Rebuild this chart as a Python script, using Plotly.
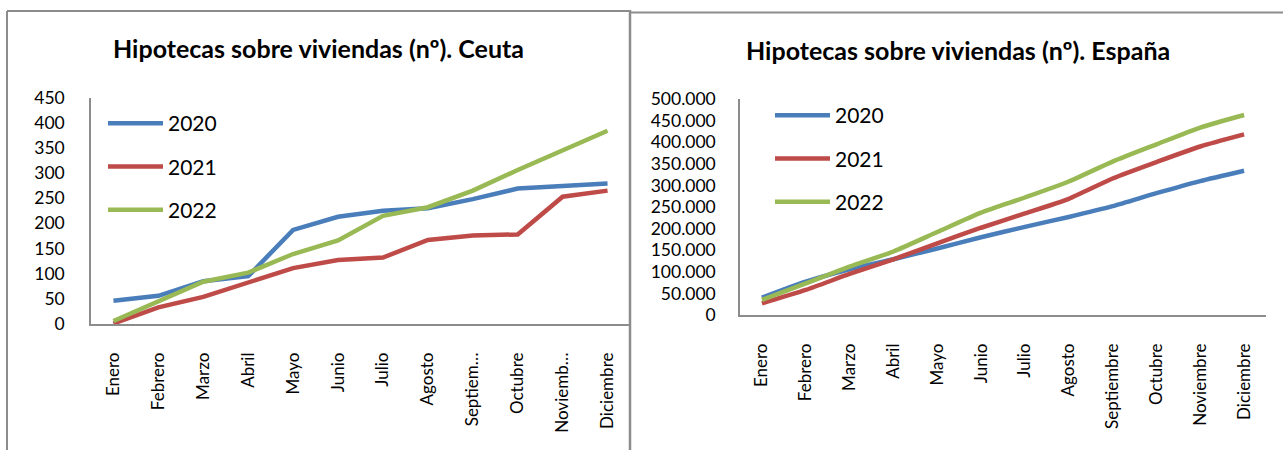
import plotly.graph_objects as go

months_ceuta = ["Enero", "Febrero", "Marzo", "Abril", "Mayo", "Junio", "Julio",
                "Agosto", "Septiem…", "Octubre", "Noviemb…", "Diciembre"]
months_esp = ["Enero", "Febrero", "Marzo", "Abril", "Mayo", "Junio", "Julio",
              "Agosto", "Septiembre", "Octubre", "Noviembre", "Diciembre"]

ceuta_2020 = [46, 56, 85, 95, 187, 213, 225, 230, 248, 269, 274, 279]
ceuta_2021 = [1, 33, 54, 82, 111, 127, 132, 167, 176, 178, 253, 265]
ceuta_2022 = [6, 44, 84, 102, 139, 166, 215, 232, 265, 306, 346, 384]

esp_2020 = [40000, 77000, 106000, 129000, 154000, 180000, 204000, 227000, 252000, 282000, 310000, 334000]
esp_2021 = [27000, 58000, 95000, 129000, 166000, 202000, 235000, 269000, 316000, 354000, 390000, 418000]
esp_2022 = [35000, 73000, 112000, 147000, 192000, 237000, 272000, 309000, 355000, 395000, 434000, 463000]

ceuta_ticks = [0, 50, 100, 150, 200, 250, 300, 350, 400, 450]
esp_ticks = [0, 50000, 100000, 150000, 200000, 250000, 300000, 350000, 400000, 450000, 500000]
esp_ticktext = ["0", "50.000", "100.000", "150.000", "200.000", "250.000", "300.000",
                "350.000", "400.000", "450.000", "500.000"]

years = ["2020", "2021", "2022"]
colors = ["#4A7EBB", "#BE4B48", "#98B954"]

W, H = 1283, 450
FONT = "Lato"

fig = go.Figure()

for i, (yr, vals) in enumerate(zip(years, [ceuta_2020, ceuta_2021, ceuta_2022])):
    fig.add_trace(go.Scatter(x=months_ceuta, y=vals, name=yr, mode="lines",
                             line=dict(color=colors[i], width=4.5),
                             xaxis="x", yaxis="y", legend="legend",
                             legendgroup="c" + yr))
for i, (yr, vals) in enumerate(zip(years, [esp_2020, esp_2021, esp_2022])):
    fig.add_trace(go.Scatter(x=months_esp, y=vals, name=yr, mode="lines",
                             line=dict(color=colors[i], width=4.5, shape="spline", smoothing=0.6),
                             xaxis="x2", yaxis="y2", legend="legend2",
                             legendgroup="e" + yr))

def px(x):
    return x / W

def py(y):
    return 1 - y / H

def axis_style(size):
    return dict(showgrid=False, zeroline=False, showline=True,
                linecolor="#8C8C8C", linewidth=1.5, ticks="", automargin=False,
                tickfont=dict(family=FONT, size=size, color="#000"))

fig.update_layout(
    width=W, height=H,
    margin=dict(l=0, r=0, t=0, b=0, pad=0, autoexpand=False),
    paper_bgcolor="white", plot_bgcolor="white",
    showlegend=True,
    xaxis=dict(domain=[px(91), px(630)], anchor="y", tickangle=-90,
               range=[-0.5, 11.5], ticklabelstandoff=20, **axis_style(17)),
    yaxis=dict(domain=[py(324), py(97.5)], anchor="x", range=[0, 450],
               tickvals=ceuta_ticks, ticklabelstandoff=21, **axis_style(17.5)),
    xaxis2=dict(domain=[px(740), px(1266)], anchor="y2", tickangle=-90,
                range=[-0.5, 11.5], ticklabelstandoff=20, **axis_style(17)),
    yaxis2=dict(domain=[py(315), py(99)], anchor="x2", range=[0, 500000],
                tickvals=esp_ticks, ticktext=esp_ticktext, ticklabelstandoff=19,
                **axis_style(17.5)),
    legend=dict(x=px(103), y=py(103), xanchor="left", yanchor="top",
                bgcolor="rgba(0,0,0,0)", font=dict(family=FONT, size=21, color="#000"),
                tracegroupgap=13, itemwidth=55),
    legend2=dict(x=px(770), y=py(95), xanchor="left", yanchor="top",
                 bgcolor="rgba(0,0,0,0)", font=dict(family=FONT, size=21, color="#000"),
                 tracegroupgap=13, itemwidth=55),
    annotations=[
        dict(text="<b>Hipotecas sobre viviendas (nº). Ceuta</b>", x=px(318), y=py(48),
             xref="paper", yref="paper", xanchor="center", yanchor="middle", showarrow=False,
             font=dict(family=FONT, size=25, color="#000")),
        dict(text="<b>Hipotecas sobre viviendas (nº). España</b>", x=px(958), y=py(50),
             xref="paper", yref="paper", xanchor="center", yanchor="middle", showarrow=False,
             font=dict(family=FONT, size=25, color="#000")),
    ],
    shapes=[
        dict(type="line", xref="paper", yref="paper", x0=px(7), x1=px(630), y0=py(11), y1=py(11),
             line=dict(color="#8C8C8C", width=2)),
        dict(type="line", xref="paper", yref="paper", x0=px(7), x1=px(7), y0=py(11), y1=py(450),
             line=dict(color="#8C8C8C", width=2)),
        dict(type="line", xref="paper", yref="paper", x0=px(630), x1=px(630), y0=py(10), y1=py(450),
             line=dict(color="#8C8C8C", width=2.5)),
        dict(type="line", xref="paper", yref="paper", x0=px(631), x1=px(1283), y0=py(12.5), y1=py(12.5),
             line=dict(color="#8C8C8C", width=2)),
    ],
)

fig.write_html("out.html", config={"displayModeBar": False},
               post_script="document.body.style.margin='0';document.body.style.overflow='hidden';")
